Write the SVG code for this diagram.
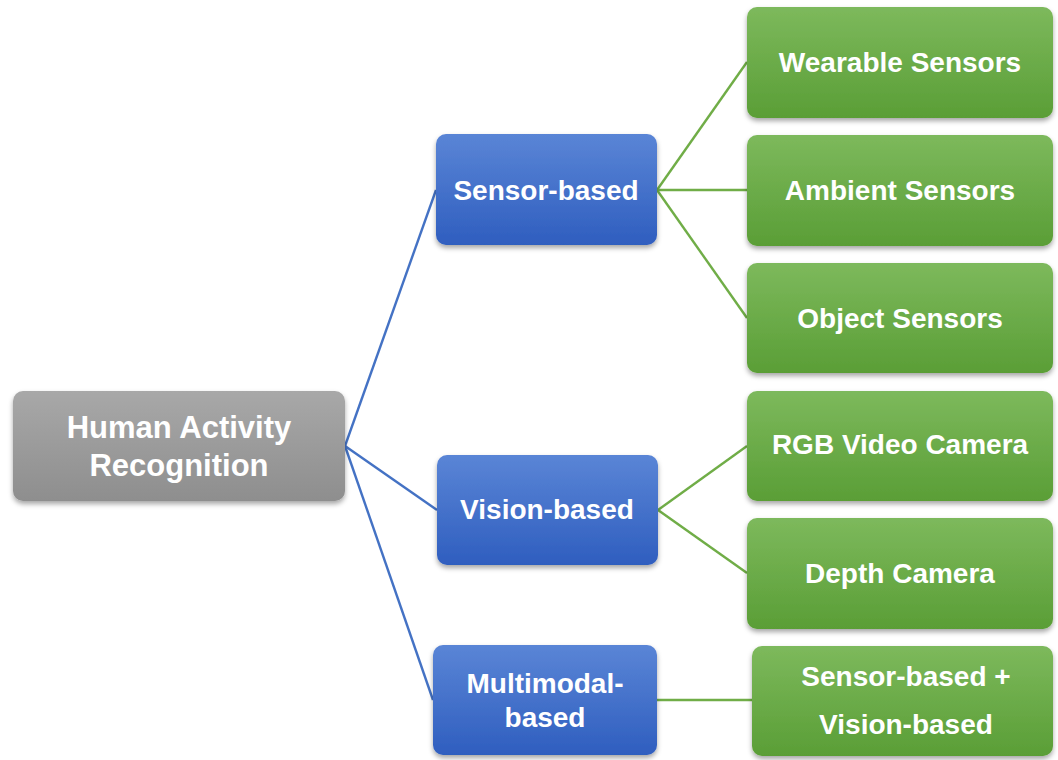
<svg xmlns="http://www.w3.org/2000/svg" width="1058" height="760" viewBox="0 0 1058 760">
<style>
.t{font-family:"Liberation Sans",Arial,sans-serif;font-weight:bold;fill:#ffffff;text-anchor:middle}
.s{font-size:28px}
.r{font-size:31px}
.cb{stroke:#4472C4;stroke-width:2.4;fill:none}
.cg{stroke:#70AD47;stroke-width:2.4;fill:none}
</style>
<defs>
<linearGradient id="gGray" x1="0" y1="0" x2="0" y2="1"><stop offset="0" stop-color="#a8a8a8"/><stop offset="1" stop-color="#8e8e8e"/></linearGradient>
<linearGradient id="gBlue" x1="0" y1="0" x2="0" y2="1"><stop offset="0" stop-color="#5a85d6"/><stop offset="1" stop-color="#2f5ebf"/></linearGradient>
<linearGradient id="gGreen" x1="0" y1="0" x2="0" y2="1"><stop offset="0" stop-color="#7db95c"/><stop offset="1" stop-color="#5a9e36"/></linearGradient>
<filter id="sh" x="-10%" y="-10%" width="120%" height="130%"><feDropShadow dx="0" dy="3" stdDeviation="2.5" flood-color="#000" flood-opacity="0.35"/></filter>
</defs>
<g id="connectors">
<path class="cb" d="M345 446 L436 190"/>
<path class="cb" d="M345 446 L437 510"/>
<path class="cb" d="M345 446 L433 700"/>
<path class="cg" d="M657 190 L747 62"/>
<path class="cg" d="M657 190 L747 190"/>
<path class="cg" d="M657 190 L747 318"/>
<path class="cg" d="M658 510 L747 446"/>
<path class="cg" d="M658 510 L747 573"/>
<path class="cg" d="M657 700 L752 700"/>
</g>
<g id="root"><rect x="13" y="391" width="332" height="110" rx="10" fill="url(#gGray)" filter="url(#sh)"/><text class="t r" x="179" y="438">Human Activity</text><text class="t r" x="179" y="476">Recognition</text></g>
<g id="sensor"><rect x="436" y="134" width="221" height="111" rx="10" fill="url(#gBlue)" filter="url(#sh)"/><text class="t s" x="546" y="200">Sensor-based</text></g>
<g id="vision"><rect x="437" y="455" width="221" height="110" rx="10" fill="url(#gBlue)" filter="url(#sh)"/><text class="t s" x="547" y="519">Vision-based</text></g>
<g id="multimodal"><rect x="433" y="645" width="224" height="110" rx="10" fill="url(#gBlue)" filter="url(#sh)"/><text class="t s" x="545" y="693">Multimodal-</text><text class="t s" x="545" y="727">based</text></g>
<g id="wearable"><rect x="747" y="7" width="306" height="111" rx="10" fill="url(#gGreen)" filter="url(#sh)"/><text class="t s" x="900" y="72">Wearable Sensors</text></g>
<g id="ambient"><rect x="747" y="135" width="306" height="111" rx="10" fill="url(#gGreen)" filter="url(#sh)"/><text class="t s" x="900" y="200">Ambient Sensors</text></g>
<g id="object"><rect x="747" y="263" width="306" height="110" rx="10" fill="url(#gGreen)" filter="url(#sh)"/><text class="t s" x="900" y="328">Object Sensors</text></g>
<g id="rgb"><rect x="747" y="391" width="306" height="110" rx="10" fill="url(#gGreen)" filter="url(#sh)"/><text class="t s" x="900" y="454">RGB Video Camera</text></g>
<g id="depth"><rect x="747" y="518" width="306" height="111" rx="10" fill="url(#gGreen)" filter="url(#sh)"/><text class="t s" x="900" y="583">Depth Camera</text></g>
<g id="combined"><rect x="752" y="646" width="301" height="110" rx="10" fill="url(#gGreen)" filter="url(#sh)"/><text class="t s" x="906" y="686">Sensor-based +</text><text class="t s" x="906" y="734">Vision-based</text></g>
</svg>
